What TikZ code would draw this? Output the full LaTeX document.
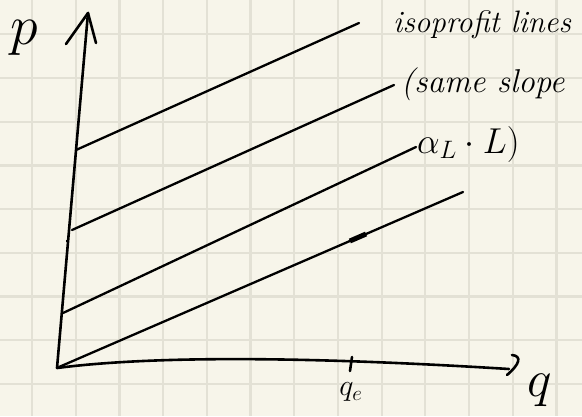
\RequirePackage{fix-cm}
\documentclass[tikz,border=0pt]{standalone}
\usetikzlibrary{arrows.meta, calc, positioning}
\definecolor{paper}{HTML}{F7F5EA}
\definecolor{gridgray}{HTML}{E3E1D5}
\tikzset{
  gridline/.style={draw=gridgray, line width=2.2pt},
  axisline/.style={draw=black, line width=2.6pt, line cap=round, line join=round},
  isoline/.style={draw=black, line width=2.3pt, line cap=round},
  handlabel/.style={font=\fontsize{31}{33}\selectfont\itshape, inner sep=0pt}
}

\begin{document}
\begin{tikzpicture}[x=1pt, y=-1pt]
\useasboundingbox (0,0) rectangle (582,416);
\fill[paper] (0,0) rectangle (582,416);

%% Squared paper
\foreach \i in {0,...,12}
  \draw[gridline] ({32+43.7*\i},0) -- ({32+43.7*\i},416);
\foreach \j in {0,...,8}
  \draw[gridline] (0,{34.3+43.7*\j}) -- (582,{34.3+43.7*\j});

%% Axes
\coordinate (origin) at (57,368);
\coordinate (ptip)   at (88,13);
\coordinate (qtip)   at (509,369);
\coordinate (qe)     at (351,362);

\draw[axisline] (origin) -- (ptip);
\draw[axisline] ($(ptip)+(-22,31)$) -- (ptip) -- ++(8,30);

\draw[axisline] (origin) .. controls (150,356) and (300,356) .. (qtip);
\draw[axisline] ($(qtip)+(3,-14)$) .. controls ($(qtip)+(13,-13)$) and ($(qtip)+(11,-5)$) .. ($(qtip)+(-2,6)$);

%% q_e tick
\draw[axisline] ($(qe)+(1,-5)$) -- ($(qe)+(-1,9)$);

%% Axis labels
\node[handlabel, font=\fontsize{56}{58}\selectfont] (plabel) at (24,38) {$p$};
\node[handlabel, font=\fontsize{52}{54}\selectfont] (qlabel) at (540,390) {$q$};
\node[handlabel, font=\fontsize{30}{32}\selectfont] (qelabel) at (351,392) {$q_e$};

%% Isoprofit lines
\coordinate (a1) at (76,150);  \coordinate (b1) at (359,23);
\coordinate (a2) at (72,230);  \coordinate (b2) at (394,85);
\coordinate (a3) at (63,313);  \coordinate (b3) at (416,147);
\coordinate (a4) at (59,367);  \coordinate (b4) at (463,192);

\draw[isoline] (a1) -- (b1);
\draw[isoline] (a2) -- (b2);
\draw[isoline] (a3) -- (b3);
\draw[isoline] (a4) -- (b4);

%% marks on the lines
\draw[line width=5pt] ($(a4)!0.72!(b4)$) -- ($(a4)!0.76!(b4)$);
\draw[line width=2pt] ($(a2)+(-6,11)$) -- ($(a2)+(-3,11)$);

%% Note
\node[handlabel, anchor=west] (isolabel)   at (393,25)  {isoprofit lines};
\node[handlabel, anchor=west, font=\fontsize{33}{35}\selectfont\itshape] (slopelabel) at (401,84)  {(same slope};
\node[handlabel, anchor=west, font=\fontsize{36}{38}\selectfont] (alphalabel) at (417,144) {$\alpha_L\cdot L)$};

\end{tikzpicture}
\end{document}
